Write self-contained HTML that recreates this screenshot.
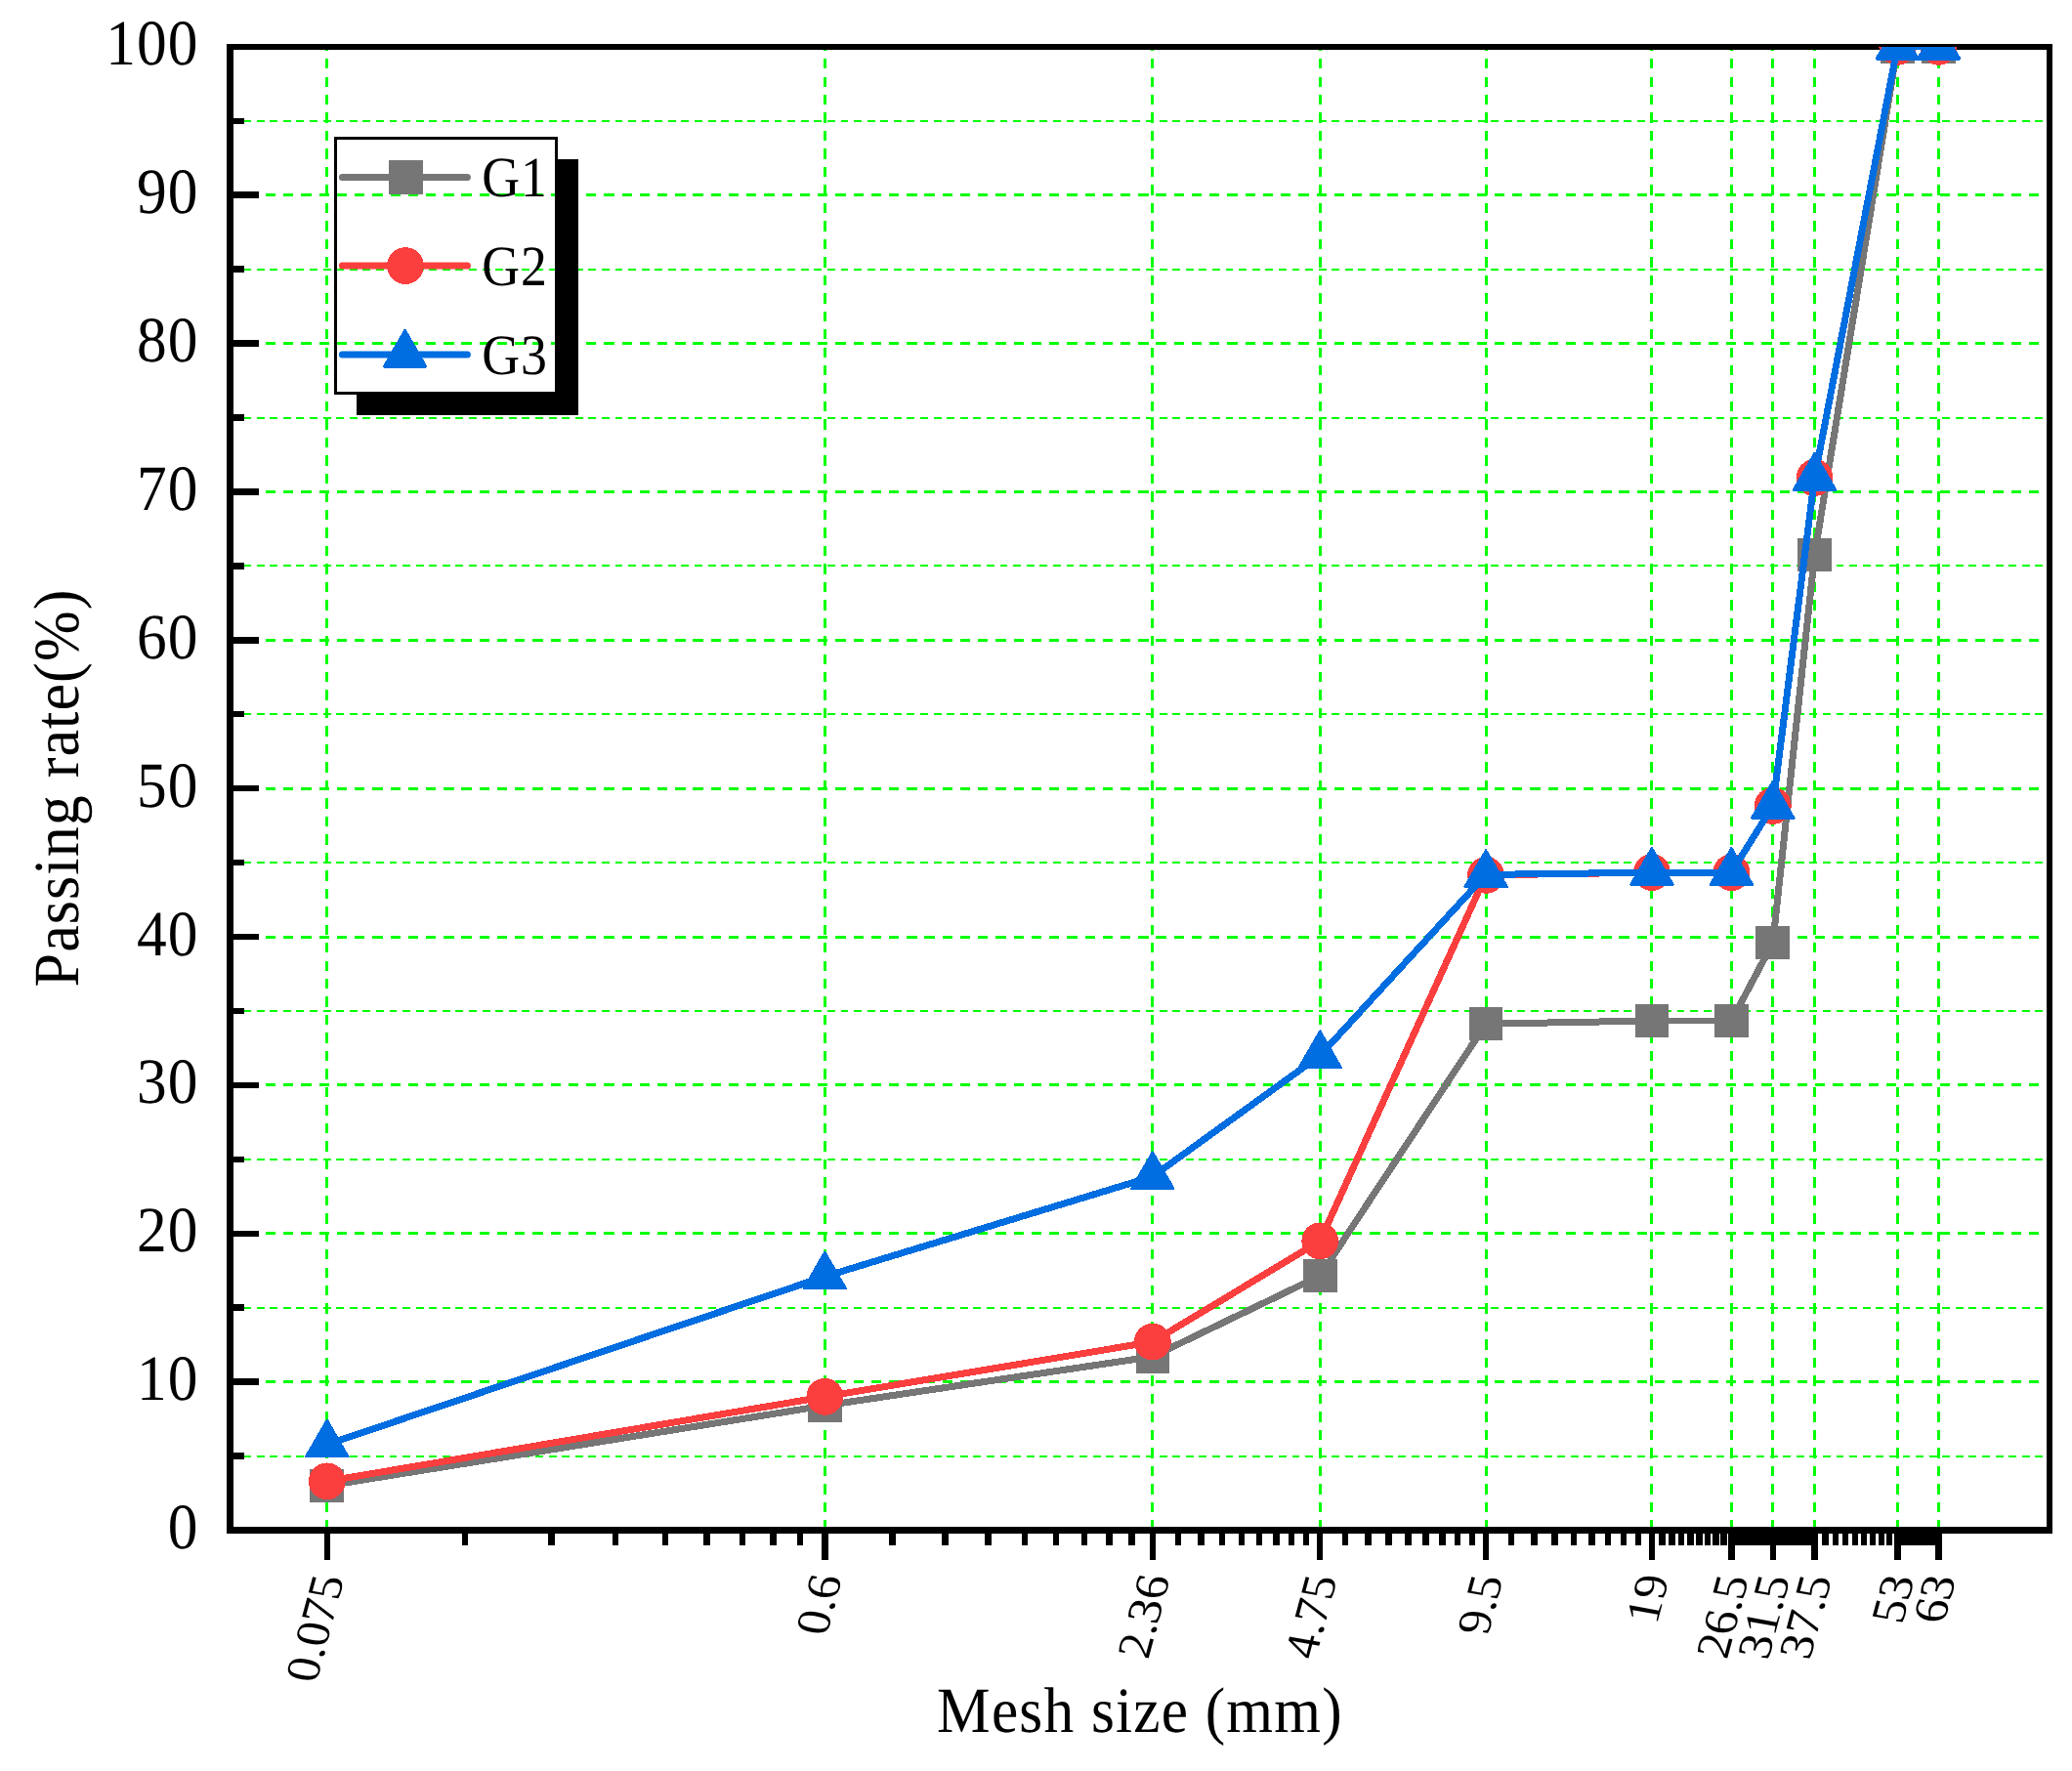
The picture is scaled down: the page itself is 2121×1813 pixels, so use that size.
<!DOCTYPE html>
<html><head><meta charset="utf-8"><title>Gradation curves</title>
<style>html,body{margin:0;padding:0;background:#fff}svg{display:block}</style></head>
<body>
<svg width="2121" height="1813" viewBox="0 0 2121 1813" shape-rendering="crispEdges">
<rect width="2121" height="1813" fill="#fff"/>
<g fill="none" stroke="#00ff00">
<path d="M235.5 1491.00H2098.0" stroke-width="2" stroke-dasharray="7.9 5.6875"/>
<path d="M235.5 1414.50H2098.0" stroke-width="3" stroke-dasharray="10.3 7.93"/>
<path d="M235.5 1339.00H2098.0" stroke-width="2" stroke-dasharray="7.9 5.6875"/>
<path d="M235.5 1262.50H2098.0" stroke-width="3" stroke-dasharray="10.3 7.93"/>
<path d="M235.5 1187.00H2098.0" stroke-width="2" stroke-dasharray="7.9 5.6875"/>
<path d="M235.5 1110.50H2098.0" stroke-width="3" stroke-dasharray="10.3 7.93"/>
<path d="M235.5 1035.00H2098.0" stroke-width="2" stroke-dasharray="7.9 5.6875"/>
<path d="M235.5 959.50H2098.0" stroke-width="3" stroke-dasharray="10.3 7.93"/>
<path d="M235.5 883.00H2098.0" stroke-width="2" stroke-dasharray="7.9 5.6875"/>
<path d="M235.5 807.50H2098.0" stroke-width="3" stroke-dasharray="10.3 7.93"/>
<path d="M235.5 731.00H2098.0" stroke-width="2" stroke-dasharray="7.9 5.6875"/>
<path d="M235.5 655.50H2098.0" stroke-width="3" stroke-dasharray="10.3 7.93"/>
<path d="M235.5 579.00H2098.0" stroke-width="2" stroke-dasharray="7.9 5.6875"/>
<path d="M235.5 503.50H2098.0" stroke-width="3" stroke-dasharray="10.3 7.93"/>
<path d="M235.5 428.00H2098.0" stroke-width="2" stroke-dasharray="7.9 5.6875"/>
<path d="M235.5 351.50H2098.0" stroke-width="3" stroke-dasharray="10.3 7.93"/>
<path d="M235.5 276.00H2098.0" stroke-width="2" stroke-dasharray="7.9 5.6875"/>
<path d="M235.5 199.50H2098.0" stroke-width="3" stroke-dasharray="10.3 7.93"/>
<path d="M235.5 124.00H2098.0" stroke-width="2" stroke-dasharray="7.9 5.6875"/>
<path d="M334.50 1566.5V48.0" stroke-width="3" stroke-dasharray="10.4 8.07"/>
<path d="M844.50 1566.5V48.0" stroke-width="3" stroke-dasharray="10.4 8.07"/>
<path d="M1179.50 1566.5V48.0" stroke-width="3" stroke-dasharray="10.4 8.07"/>
<path d="M1351.50 1566.5V48.0" stroke-width="3" stroke-dasharray="10.4 8.07"/>
<path d="M1521.50 1566.5V48.0" stroke-width="3" stroke-dasharray="10.4 8.07"/>
<path d="M1690.50 1566.5V48.0" stroke-width="3" stroke-dasharray="10.4 8.07"/>
<path d="M1772.50 1566.5V48.0" stroke-width="3" stroke-dasharray="10.4 8.07"/>
<path d="M1814.50 1566.5V48.0" stroke-width="3" stroke-dasharray="10.4 8.07"/>
<path d="M1857.50 1566.5V48.0" stroke-width="3" stroke-dasharray="10.4 8.07"/>
<path d="M1942.50 1566.5V48.0" stroke-width="3" stroke-dasharray="10.4 8.07"/>
<path d="M1984.50 1566.5V48.0" stroke-width="3" stroke-dasharray="10.4 8.07"/>
</g>
<path fill="#000" fill-rule="evenodd" d="M232 45H2101V1570H232ZM239 51V1563H2095V51Z"/>
<path fill="#000" d="M239 1487H250V1494H239ZM239 1411H265V1418H239ZM239 1335H250V1342H239ZM239 1260H265V1266H239ZM239 1184H250V1190H239ZM239 1108H265V1114H239ZM239 1032H250V1038H239ZM239 956H265V962H239ZM239 880H250V886H239ZM239 804H265V810H239ZM239 728H250V734H239ZM239 652H265V659H239ZM239 576H250V583H239ZM239 500H265V507H239ZM239 424H250V431H239ZM239 348H265V355H239ZM239 272H250V279H239ZM239 196H265V203H239ZM239 121H250V127H239ZM332 1570H338V1597H332ZM473 1570H479V1582H473ZM561 1570H568V1582H561ZM627 1570H633V1582H627ZM678 1570H684V1582H678ZM720 1570H727V1582H720ZM757 1570H763V1582H757ZM788 1570H795V1582H788ZM816 1570H822V1582H816ZM841 1570H848V1597H841ZM910 1570H917V1582H910ZM964 1570H971V1582H964ZM1008 1570H1015V1582H1008ZM1046 1570H1052V1582H1046ZM1078 1570H1084V1582H1078ZM1107 1570H1113V1582H1107ZM1132 1570H1139V1582H1132ZM1155 1570H1162V1582H1155ZM1177 1570H1183V1597H1177ZM1203 1570H1209V1582H1203ZM1226 1570H1233V1582H1226ZM1248 1570H1254V1582H1248ZM1268 1570H1274V1582H1268ZM1286 1570H1292V1582H1286ZM1303 1570H1310V1582H1303ZM1319 1570H1325V1582H1319ZM1334 1570H1340V1582H1334ZM1348 1570H1354V1597H1348ZM1374 1570H1380V1582H1374ZM1397 1570H1404V1582H1397ZM1418 1570H1425V1582H1418ZM1438 1570H1445V1582H1438ZM1456 1570H1463V1582H1456ZM1473 1570H1480V1582H1473ZM1489 1570H1495V1582H1489ZM1504 1570H1510V1582H1504ZM1518 1570H1524V1597H1518ZM1544 1570H1550V1582H1544ZM1567 1570H1574V1582H1567ZM1588 1570H1595V1582H1588ZM1608 1570H1614V1582H1608ZM1626 1570H1633V1582H1626ZM1643 1570H1649V1582H1643ZM1659 1570H1665V1582H1659ZM1674 1570H1680V1582H1674ZM1688 1570H1694V1597H1688ZM1698 1570H1705V1582H1698ZM1708 1570H1715V1582H1708ZM1718 1570H1724V1582H1718ZM1727 1570H1734V1582H1727ZM1736 1570H1743V1582H1736ZM1745 1570H1751V1582H1745ZM1753 1570H1760V1582H1753ZM1761 1570H1768V1582H1761ZM1769 1570H1776V1597H1769ZM1774 1570H1781V1582H1774ZM1779 1570H1786V1582H1779ZM1784 1570H1791V1582H1784ZM1789 1570H1795V1582H1789ZM1794 1570H1800V1582H1794ZM1798 1570H1805V1582H1798ZM1803 1570H1809V1582H1803ZM1807 1570H1814V1582H1807ZM1812 1570H1818V1597H1812ZM1817 1570H1823V1582H1817ZM1822 1570H1828V1582H1822ZM1827 1570H1833V1582H1827ZM1831 1570H1838V1582H1831ZM1836 1570H1843V1582H1836ZM1841 1570H1847V1582H1841ZM1845 1570H1852V1582H1845ZM1850 1570H1856V1582H1850ZM1854 1570H1861V1597H1854ZM1865 1570H1872V1582H1865ZM1876 1570H1882V1582H1876ZM1886 1570H1892V1582H1886ZM1896 1570H1902V1582H1896ZM1905 1570H1911V1582H1905ZM1914 1570H1920V1582H1914ZM1923 1570H1929V1582H1923ZM1931 1570H1937V1582H1931ZM1939 1570H1946V1597H1939ZM1944 1570H1951V1582H1944ZM1949 1570H1956V1582H1949ZM1954 1570H1960V1582H1954ZM1959 1570H1965V1582H1959ZM1963 1570H1970V1582H1963ZM1968 1570H1975V1582H1968ZM1973 1570H1979V1582H1973ZM1977 1570H1984V1582H1977ZM1981 1570H1988V1597H1981Z"/>
<defs><clipPath id="pc"><rect x="235.5" y="48.0" width="1862.5" height="1518.5"/></clipPath></defs>
<g clip-path="url(#pc)">
<polyline fill="none" stroke="#767676" stroke-width="7" stroke-linejoin="round" points="334.78,1520.94 844.30,1438.93 1179.86,1388.82 1351.25,1306.05 1521.08,1048.18 1690.92,1045.00 1772.44,1045.00 1814.79,965.11 1857.51,568.14 1942.28,47.85 1984.63,47.85"/>
<rect x="317.48" y="1503.64" width="34.6" height="34.6" fill="#767676"/>
<rect x="827.00" y="1421.63" width="34.6" height="34.6" fill="#767676"/>
<rect x="1162.56" y="1371.52" width="34.6" height="34.6" fill="#767676"/>
<rect x="1333.95" y="1288.75" width="34.6" height="34.6" fill="#767676"/>
<rect x="1503.78" y="1030.88" width="34.6" height="34.6" fill="#767676"/>
<rect x="1673.62" y="1027.70" width="34.6" height="34.6" fill="#767676"/>
<rect x="1755.14" y="1027.70" width="34.6" height="34.6" fill="#767676"/>
<rect x="1797.49" y="947.81" width="34.6" height="34.6" fill="#767676"/>
<rect x="1840.21" y="550.84" width="34.6" height="34.6" fill="#767676"/>
<rect x="1924.98" y="30.55" width="34.6" height="34.6" fill="#767676"/>
<rect x="1967.33" y="30.55" width="34.6" height="34.6" fill="#767676"/>
<polyline fill="none" stroke="#fb3e3e" stroke-width="7" stroke-linejoin="round" points="334.78,1516.38 844.30,1429.82 1179.86,1373.63 1351.25,1270.36 1521.08,895.86 1690.92,893.13 1772.44,893.13 1814.79,824.94 1857.51,489.02 1942.28,47.85 1984.63,47.85"/>
<circle cx="334.78" cy="1516.38" r="18.9" fill="#fb3e3e"/>
<circle cx="844.30" cy="1429.82" r="18.9" fill="#fb3e3e"/>
<circle cx="1179.86" cy="1373.63" r="18.9" fill="#fb3e3e"/>
<circle cx="1351.25" cy="1270.36" r="18.9" fill="#fb3e3e"/>
<circle cx="1521.08" cy="895.86" r="18.9" fill="#fb3e3e"/>
<circle cx="1690.92" cy="893.13" r="18.9" fill="#fb3e3e"/>
<circle cx="1772.44" cy="893.13" r="18.9" fill="#fb3e3e"/>
<circle cx="1814.79" cy="824.94" r="18.9" fill="#fb3e3e"/>
<circle cx="1857.51" cy="489.02" r="18.9" fill="#fb3e3e"/>
<circle cx="1942.28" cy="47.85" r="18.9" fill="#fb3e3e"/>
<circle cx="1984.63" cy="47.85" r="18.9" fill="#fb3e3e"/>
<polyline fill="none" stroke="#006de0" stroke-width="7" stroke-linejoin="round" points="334.78,1478.72 844.30,1306.81 1179.86,1204.45 1351.25,1080.53 1521.08,895.41 1690.92,893.13 1772.44,893.13 1814.79,824.94 1857.51,489.02 1942.28,47.85 1984.63,47.85"/>
<path d="M334.78 1453.90L356.28 1491.14H313.28Z" fill="#006de0" stroke="#006de0" stroke-width="2.5" stroke-linejoin="round"/>
<path d="M844.30 1281.98L865.80 1319.22H822.80Z" fill="#006de0" stroke="#006de0" stroke-width="2.5" stroke-linejoin="round"/>
<path d="M1179.86 1179.63L1201.36 1216.87H1158.36Z" fill="#006de0" stroke="#006de0" stroke-width="2.5" stroke-linejoin="round"/>
<path d="M1351.25 1055.71L1372.75 1092.95H1329.75Z" fill="#006de0" stroke="#006de0" stroke-width="2.5" stroke-linejoin="round"/>
<path d="M1521.08 870.58L1542.58 907.82H1499.58Z" fill="#006de0" stroke="#006de0" stroke-width="2.5" stroke-linejoin="round"/>
<path d="M1690.92 868.30L1712.42 905.54H1669.42Z" fill="#006de0" stroke="#006de0" stroke-width="2.5" stroke-linejoin="round"/>
<path d="M1772.44 868.30L1793.94 905.54H1750.94Z" fill="#006de0" stroke="#006de0" stroke-width="2.5" stroke-linejoin="round"/>
<path d="M1814.79 800.12L1836.29 837.36H1793.29Z" fill="#006de0" stroke="#006de0" stroke-width="2.5" stroke-linejoin="round"/>
<path d="M1857.51 464.19L1879.01 501.43H1836.01Z" fill="#006de0" stroke="#006de0" stroke-width="2.5" stroke-linejoin="round"/>
<path d="M1942.28 23.02L1963.78 60.26H1920.78Z" fill="#006de0" stroke="#006de0" stroke-width="2.5" stroke-linejoin="round"/>
<path d="M1984.63 23.02L2006.13 60.26H1963.13Z" fill="#006de0" stroke="#006de0" stroke-width="2.5" stroke-linejoin="round"/>
</g>
<path d="M571 163H592V424.5H365V403.9H571Z" fill="#000"/>
<rect x="343.4" y="141.5" width="226.1" height="261.3" fill="none" stroke="#000" stroke-width="3"/>
<path d="M350.4 181.4H478.4" stroke="#767676" stroke-width="7" stroke-linecap="round" fill="none" shape-rendering="geometricPrecision"/>
<rect x="398.20" y="164.10" width="34.6" height="34.6" fill="#767676"/>
<path d="M350.4 272.1H478.4" stroke="#fb3e3e" stroke-width="7" stroke-linecap="round" fill="none" shape-rendering="geometricPrecision"/>
<circle cx="414.90" cy="272.10" r="18.9" fill="#fb3e3e"/>
<path d="M350.4 362.9H478.4" stroke="#006de0" stroke-width="7" stroke-linecap="round" fill="none" shape-rendering="geometricPrecision"/>
<path d="M414.60 338.07L436.10 375.31H393.10Z" fill="#006de0" stroke="#006de0" stroke-width="2.5" stroke-linejoin="round"/>
<g font-family="'Liberation Serif', serif" fill="#000" text-rendering="geometricPrecision">
<text transform="translate(493.20 201.00) scale(0.92 1.0)" font-size="58.5" text-anchor="start" letter-spacing="1.0">G1</text>
<text transform="translate(493.20 291.70) scale(0.92 1.0)" font-size="58.5" text-anchor="start" letter-spacing="1.0">G2</text>
<text transform="translate(493.20 382.50) scale(0.92 1.0)" font-size="58.5" text-anchor="start" letter-spacing="1.0">G3</text>
<text transform="translate(203.60 1585.00) scale(0.93 1.0)" font-size="66" text-anchor="end" letter-spacing="1.2">0</text>
<text transform="translate(203.60 1433.13) scale(0.93 1.0)" font-size="66" text-anchor="end" letter-spacing="1.2">10</text>
<text transform="translate(203.60 1281.27) scale(0.93 1.0)" font-size="66" text-anchor="end" letter-spacing="1.2">20</text>
<text transform="translate(203.60 1129.40) scale(0.93 1.0)" font-size="66" text-anchor="end" letter-spacing="1.2">30</text>
<text transform="translate(203.60 977.54) scale(0.93 1.0)" font-size="66" text-anchor="end" letter-spacing="1.2">40</text>
<text transform="translate(203.60 825.67) scale(0.93 1.0)" font-size="66" text-anchor="end" letter-spacing="1.2">50</text>
<text transform="translate(203.60 673.81) scale(0.93 1.0)" font-size="66" text-anchor="end" letter-spacing="1.2">60</text>
<text transform="translate(203.60 521.94) scale(0.93 1.0)" font-size="66" text-anchor="end" letter-spacing="1.2">70</text>
<text transform="translate(203.60 370.08) scale(0.93 1.0)" font-size="66" text-anchor="end" letter-spacing="1.2">80</text>
<text transform="translate(203.60 218.21) scale(0.93 1.0)" font-size="66" text-anchor="end" letter-spacing="1.2">90</text>
<text transform="translate(203.60 66.35) scale(0.93 1.0)" font-size="66" text-anchor="end" letter-spacing="1.2">100</text>
<text transform="translate(1167.00 1772.80) scale(0.93 1.0)" font-size="66" text-anchor="middle" letter-spacing="1.3">Mesh size (mm)</text>
<text transform="translate(79.60 806.50) rotate(-90) scale(0.94 1.0)" font-size="66" text-anchor="middle" letter-spacing="1.2">Passing rate(%)</text>
<text transform="matrix(0.2588 -0.9659 1 0 353.28 1612.9)" font-size="50" text-anchor="end" font-style="italic">0.075</text>
<text transform="matrix(0.2588 -0.9659 1 0 862.80 1612.9)" font-size="50" text-anchor="end" font-style="italic">0.6</text>
<text transform="matrix(0.2588 -0.9659 1 0 1198.36 1612.9)" font-size="50" text-anchor="end" font-style="italic">2.36</text>
<text transform="matrix(0.2588 -0.9659 1 0 1369.75 1612.9)" font-size="50" text-anchor="end" font-style="italic">4.75</text>
<text transform="matrix(0.2588 -0.9659 1 0 1539.58 1612.9)" font-size="50" text-anchor="end" font-style="italic">9.5</text>
<text transform="matrix(0.2588 -0.9659 1 0 1709.42 1612.9)" font-size="50" text-anchor="end" font-style="italic">19</text>
<text transform="matrix(0.2588 -0.9659 1 0 1790.94 1612.9)" font-size="50" text-anchor="end" font-style="italic">26.5</text>
<text transform="matrix(0.2588 -0.9659 1 0 1833.29 1612.9)" font-size="50" text-anchor="end" font-style="italic">31.5</text>
<text transform="matrix(0.2588 -0.9659 1 0 1876.01 1612.9)" font-size="50" text-anchor="end" font-style="italic">37.5</text>
<text transform="matrix(0.2588 -0.9659 1 0 1960.78 1612.9)" font-size="50" text-anchor="end" font-style="italic">53</text>
<text transform="matrix(0.2588 -0.9659 1 0 2003.13 1612.9)" font-size="50" text-anchor="end" font-style="italic">63</text>
</g>
</svg>
</body></html>
